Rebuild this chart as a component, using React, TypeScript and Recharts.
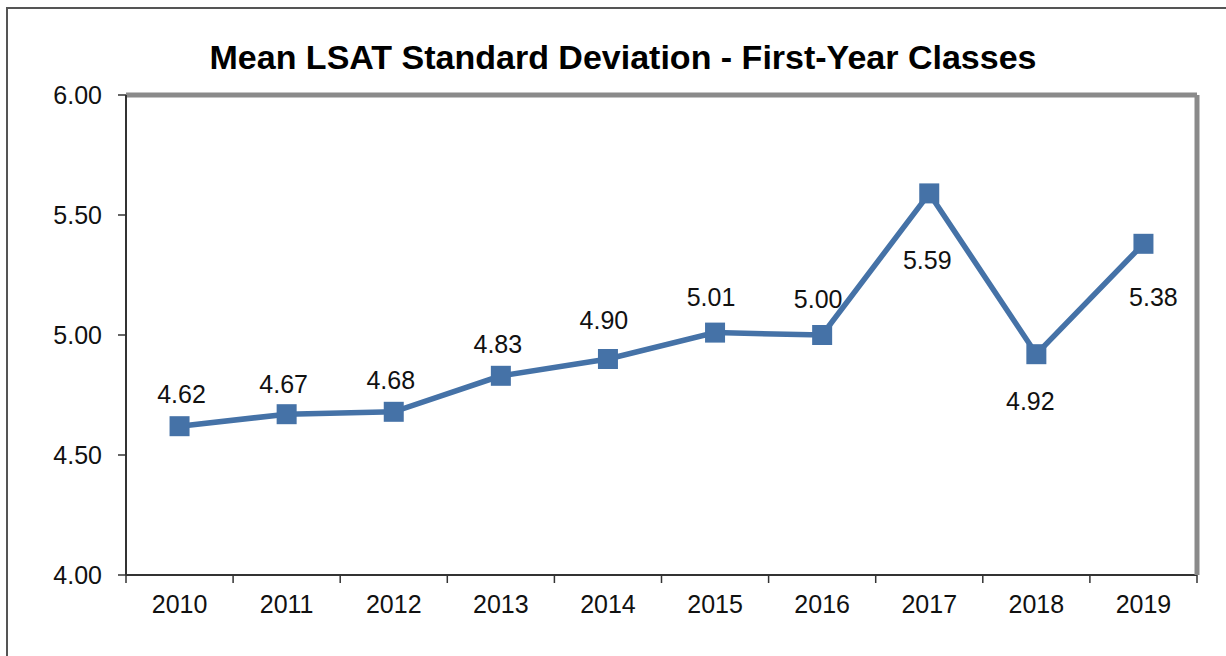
import React from 'react';
import { LineChart, Line, XAxis, YAxis, LabelList } from 'recharts';

const years = ['2010', '2011', '2012', '2013', '2014', '2015', '2016', '2017', '2018', '2019'];
const meanSd = [4.62, 4.67, 4.68, 4.83, 4.9, 5.01, 5.0, 5.59, 4.92, 5.38];
const yTicks = [4.0, 4.5, 5.0, 5.5, 6.0];

// hand placed label offsets, like the original
const labelDx = [2, -3, -3, -3, -4, -4, -4, -2, -6, 10];
const labelDy = [-32, -30, -32, -32, -39, -36, -36, 67, 47, 53];

const W = 1226;
const H = 656;
const BLUE = '#4572a7';
const FONT = '"Liberation Sans", Arial, sans-serif';
const Y_AXIS_W = 126;
const RIGHT = 28;
const BAND = (W - Y_AXIS_W - RIGHT - 1) / years.length;
const X_TICK_SIZE = 8;
const X_TICK_MARGIN = 12;

const data = years.map((year, i) => ({ year, sd: meanSd[i] }));

function XTick(props: any) {
  const { x, y, payload, index } = props;
  const axisY = y - X_TICK_SIZE - X_TICK_MARGIN;
  const half = BAND / 2;
  return (
    <g>
      <line x1={x - half} y1={axisY} x2={x - half} y2={axisY + X_TICK_SIZE} stroke="#333" strokeWidth={1.5} />
      {index === years.length - 1 && (
        <line x1={x + half} y1={axisY} x2={x + half} y2={axisY + X_TICK_SIZE} stroke="#333" strokeWidth={1.5} />
      )}
      <text x={x} y={y} dy="0.71em" textAnchor="middle" fontSize={25} fill="#111" fontFamily={FONT}>
        {payload.value}
      </text>
    </g>
  );
}

function renderLabel(props: any) {
  const { x, y, value, index } = props;
  return (
    <text
      x={x + labelDx[index]}
      y={y + labelDy[index]}
      textAnchor="middle"
      dominantBaseline="central"
      fontSize={25}
      fill="#111"
      fontFamily={FONT}
    >
      {Number(value).toFixed(2)}
    </text>
  );
}

function renderDot(p: any) {
  return <rect key={`dot-${p.index}`} x={p.cx - 10} y={p.cy - 10} width={20} height={20} fill={BLUE} />;
}

export default function App() {
  return (
    <div style={{ position: 'fixed', left: 0, top: 0, width: W, height: H, overflow: 'hidden', background: '#fff' }}>
      <div
        style={{
          position: 'absolute',
          left: 6,
          top: 7,
          width: W + 50,
          height: H + 50,
          borderTop: '2px solid #555',
          borderLeft: '2px solid #555',
        }}
      />
      <div
        style={{
          position: 'absolute',
          left: 0,
          top: 40,
          width: 1246,
          textAlign: 'center',
          fontFamily: FONT,
          fontWeight: 'bold',
          fontSize: 34,
          lineHeight: '34px',
          color: '#000',
        }}
      >
        Mean LSAT Standard Deviation - First-Year Classes
      </div>
      <div style={{ position: 'absolute', left: 0, top: 0 }}>
        <LineChart width={W} height={H} data={data} margin={{ top: 94, right: RIGHT, bottom: 31, left: 0 }}>
          <XAxis
            dataKey="year"
            scale="band"
            height={50}
            tickLine={false}
            tickSize={X_TICK_SIZE}
            tickMargin={X_TICK_MARGIN}
            axisLine={{ stroke: '#333', strokeWidth: 2 }}
            tick={<XTick />}
            interval={0}
          />
          <XAxis
            xAxisId="top"
            dataKey="year"
            scale="band"
            orientation="top"
            height={1}
            tick={false}
            tickLine={false}
            axisLine={{ stroke: '#8a8a8a', strokeWidth: 5 }}
          />
          <YAxis
            width={Y_AXIS_W}
            domain={[4, 6]}
            ticks={yTicks}
            tickFormatter={(v: number) => v.toFixed(2)}
            tickSize={8}
            tickMargin={16}
            tickLine={{ stroke: '#333', strokeWidth: 1.5 }}
            axisLine={{ stroke: '#333', strokeWidth: 2 }}
            tick={{ fontSize: 25, fill: '#111', fontFamily: FONT }}
          />
          <YAxis
            yAxisId="right"
            orientation="right"
            width={1}
            domain={[4, 6]}
            tick={false}
            tickLine={false}
            axisLine={{ stroke: '#8a8a8a', strokeWidth: 5 }}
          />
          <Line
            type="linear"
            dataKey="sd"
            stroke={BLUE}
            strokeWidth={5.5}
            dot={renderDot}
            activeDot={false}
            isAnimationActive={false}
          >
            <LabelList dataKey="sd" content={renderLabel} />
          </Line>
        </LineChart>
      </div>
    </div>
  );
}
